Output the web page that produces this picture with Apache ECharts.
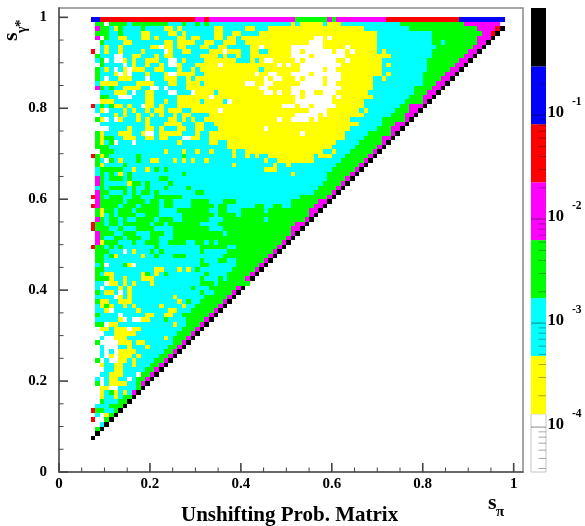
<!DOCTYPE html>
<html><head><meta charset="utf-8">
<style>html,body{margin:0;padding:0;background:#fff}#c{width:585px;height:526px}</style>
<script src="https://cdn.jsdelivr.net/npm/echarts@6/dist/echarts.min.js"></script>
</head><body><div id="c"></div>
<script>
// Colour levels: 0 white,1 yellow,2 cyan,3 green,4 magenta,5 red,6 blue,7 black
// Rows run top (s=0.99) to bottom (s=0.07). Each row: "from the left | filler level | ending on the diagonal".
const levelRows = [
"|1|6*2 5*21 4*2 5 4*19 3*7 4 3 4*11 5*16 6*10",
"|2|0 3*2 0 3*4 2 3*8 2*3 3 2*2 3 2 3 2*18 1 2 1*5 2 1*3 2*13 3*14 4*8",
"04332232222322221121222222211222221122211111|1|2*10 3*15 4*4 5 7",
"00332232221122222112122222211221122221111111|1|2*12 3*11 4*2 5 7",
"043031122221121222211211222112112111111111111111100101111111|1|2*12 3*10 4*3 7",
"001321122222112211211112211221112211111111111111000111111111|1|2*12 3*2 2 3*7 4*2 7",
"003121222222222011211222112211222221101111110000000111110111|1|2*13 3*8 4*2 7",
"502121222222222201221122221110111221122111110010000001001011|1|2 1 2*10 3*8 4*2 7",
"023122221221222211222222111121221221111111110000100000001111|1|2*9 3*7 4*2 7",
"002120021112111220021222211111112221210011111010000000110111|1|2*10 3*7 4*2 7",
"003120022112221120012221111101111111111110101100000000011111|1|2 1 2*8 3*6 4*2 7",
"002231221122221122212212111111111111121111111100000100111111|1|2*10 3*5 4*2 7",
"003220102111222210011112211111111111011001110000100000011111|1|2 1 2*7 3*5 4*2 7",
"003120101112232211122121111111111111110100111010000100011111|1|2*2 1 2*8 3*4 4*2 7",
"002122111222221221122111211111111100110011111100000100111111|1|2*11 3*3 4*2 7",
"043121222222232202222111111111111111100111110000000000011111|1|2*9 3*4 4*2 7",
"002112122222220220022201111211111111110010110010011000111111|1|2*10 3*3 4*2 7",
"003320002212221222211111110111111111111111111010000001011111|1|2*8 3*3 4*2 7",
"001122222221121212211111211112011111111111111000000001111111|1|2*9 3*4 4 7",
"503121122211221122211111111111111111111111000100100000111111|1|2*8 3*2 4*3 7",
"002112112021221121112211111101111111111111111111000011111111|1|2 1 2*6 3*3 4*2 7",
"002211222201221122121122221111111111111111111000001011111111|1|2*6 3*3 4*2 7",
"003010122021222221121212211111111111111110110000101111111|1|2*7 3*5 4 7",
"00222222222212221111222112211111111111111111|1|2*5 3*3 4*2 7",
"00000022221222112221122112221111111111011111|1|2*6 3*3 4*2 7",
"003122222211122111112221221111111111111111111101|1|2*5 3*5 4 7",
"00313022112211211222001122111111111111111111|1|2*4 3*4 4*2 7",
"00133222222223222221222222112211111111111111|1|2*5 3*5 4 7",
"00332022202222222222222222222211111111111111|1|2*5 3*5 4 7",
"00333222222222221222122122122221221111111111|1|2*2 1 2*3 3*5 4 7",
"50133222223222222222322222222221221212211111|1|2 1*3 2*3 3*5 4 7",
"00302212223221122212121221222222222222122111|1|2*6 3*5 4 7",
"00322222332222222222222222222221222222221221|2|3*5 4 7",
"00333332222213223222222222222222222222111222|2|3*5 4 7",
"002331222232222222223222222222222222222222221|2|3*5 4 7",
"04232223222222233222222222222222222222222222|2|3*4 4 7",
"04322222322233222322222222222222222222222222|2|3*4 4 7",
"04233332322222223222232222222222222222222222|2|3*4 4 7",
"04333333232233322222222332222222222222222222|2|3*4 4 7",
"54233322332233333333222222222222222222222222|2|3*6 4 7",
"04232333223332223322223333222333222222222222|3|4*2 7",
"54233333233332223322223333323322222233223322|3|4*2 7",
"03123233332232222223333333223322233333233333|3|4*2 7",
"03123233332333222222333333323333233333333333|3|4 7",
"04232233333333333322333333222333333333233333|3|4 7",
"53322333333333332333333322223333333333333333|3|4*2 7",
"53233223222333322233333333222333333333333333|3|4*2 7",
"04333323322233332233333333333233333333333333|3|4 7",
"04323322332223222233333333333333333333333333|3|4 7",
"04333323233333322333322332323333|3|4 7",
"53332332323232222222222233333322|3|4 7",
"03322122312222232222222232222233|3|4 7",
"03321222212122222233322222222333|3|4 7",
"00322222222222222222222232223322|3|4 7",
"00032212110222222222222233222222|3|4 7",
"00332222222222212221212322222223|3|4 7",
"00311022222223123222222223222233|3|4 7",
"00333122122222222222222232223233|3|4 7",
"0220121122212112222222223332333333347",
"0022101222121112222222322233333347",
"032011210122222222222222322333347",
"00221111222222222212222223333347",
"0312211112222222222123223333347",
"001111112222222122221223333347",
"00210201202221222112223333347",
"0312202102221122112233333347",
"022112010110222232222333347",
"03321121222222222212233347",
"0011211101122222222233347",
"000221111122222222233347",
"00200011122222221233347",
"0320001112112222223347",
"002000221222122223347",
"00202011112222223347",
"0020101112122223347",
"030200112122223347",
"00122112212223347",
"0002211222223347",
"002211122203347",
"02021122023347",
"0302111122347",
"001100222237",
"00123121247",
"0012212337",
"003222337",
"02223337",
"5332237",
"020137",
"50037",
"0027",
"037",
"07",
"7"
];
// Fifteen leftmost cells of the rows from s=0.97 down to s=0.28, read at closer range
const leftEdgeFirstRow = 2;
const leftEdgeRows = [
"043321322223222","033322322221122","040322112221121","003222211222222","002122122222211",
"502122122221222","032220022112221","023020012122111","003222202122122","032120210111221",
"032221010222122","032022111222022","021111222211112","043232211112200","002221112022112",
"003322000222112","001112222222112","523231121220112","021022212122121","002221212212212",
"031020122212122","002222222222122","000022221222112","031222111221002","031332211122112",
"031230222022222","033322222222222","003332222222222","531322222232222","032032122232211",
"031222232222222","023333322122123","023232123222222","043233323222222","043222221332322",
"023233332322322","043322232323323","543233322332223","043333323333233","543333233323333",
"031332333233333","031232333322333","043233232233332","533233233333323","533322322233332",
"043332233322233","043223323332233","041333222322333","533232322222223","033322202122232",
"033231222221223","033222222222222","023022231022222","033222222222221","032112222221321",
"033312212221112","022011212122212","020222121222222","032112021222222","022220121222222",
"031122111222222","021312212122222","022102222212222","032222022222112","022222102001122",
"033011222222222","001121110112222","000221111122222","002001112222222","030000111211222"
];
const levelValues = [7e-5, 2.5e-4, 9e-4, 3.3e-3, 1.2e-2, 4.3e-2, 0.155, 0.56];
const bandEdges = [3.7e-5, 1.34e-4, 4.83e-4, 1.74e-3, 6.28e-3, 2.26e-2, 8.17e-2, 0.294, 1.07];
const bandColors = ["#ffffff","#ffff00","#00ffff","#00ff00","#ff00ff","#ff0000","#0000ff","#000000"];
const majorTicks = [0,0.2,0.4,0.6,0.8,1];
const minorTicks = [0.05,0.1,0.15,0.25,0.3,0.35,0.45,0.5,0.55,0.65,0.7,0.75,0.85,0.9,0.95];
const decades = [0.1,0.01,0.001,0.0001];
const decadeExponents = ["-1","-2","-3","-4"];
const barMinorTicks = [0.9,0.8,0.7,0.6,0.5,0.4,0.3,0.2,0.09,0.08,0.07,0.06,0.05,0.04,0.03,0.02,0.009,0.008,0.007,0.006,0.005,0.004,0.003,0.002,0.0009,0.0008,0.0007,0.0006,0.0005,0.0004,0.0003,0.0002,0.00009,0.00008,0.00007,0.00006,0.00005,0.00004];
const binStart = 0.07, binWidth = 0.01, topBin = 0.99;

function expand(s){
  return s.trim().split(/\s+/).map(t=>{
    const m=t.match(/^(\d)\*(\d+)$/);
    return m? m[1].repeat(+m[2]) : t;
  }).join('');
}
const cells=[];
levelRows.forEach((row,k)=>{
  const [l,f,r]=row.split('|');
  const len = k===0?91:(k===1?90:93-k);
  const right=expand(r||''); let left=expand(l||'');
  left=left.slice(0,Math.max(0,len-right.length));
  const fill=(f||'0').repeat(Math.max(0,len-right.length-left.length));
  let s=left+fill+right;
  const edge=leftEdgeRows[k-leftEdgeFirstRow];
  if(edge) s=edge+s.slice(edge.length);
  for(let c=0;c<s.length;c++){
    cells.push([binStart+binWidth*c, topBin-binWidth*k, levelValues[+s[c]]]);
  }
});
function bandIndex(v){
  for(let i=0;i<bandColors.length;i++) if(v<bandEdges[i+1]) return i;
  return bandColors.length-1;
}
const bands=bandColors.map((c,i)=>[bandEdges[i],bandEdges[i+1],i]);
const serif='"Liberation Serif","Times New Roman",serif';
const chart=echarts.init(document.getElementById('c'),null,{renderer:'canvas'});
const topV=1.0205;
const axisCol='#555';
const label={fontFamily:serif,fontWeight:'bold',fontSize:15,color:'#000'};
const fmt=v=>(majorTicks.indexOf(v)>=0?String(v):'');
const tickData=[...majorTicks.map(v=>[v,v,9,1.6]),...minorTicks.map(v=>[v,v,4.5,1])];
chart.setOption({
  animation:false,
  backgroundColor:'#fff',
  title:{text:'Unshifting Prob. Matrix',left:181,top:505,textStyle:{fontFamily:serif,fontWeight:'bold',fontSize:21,color:'#000'},padding:0},
  grid:[
    {left:59,top:8,width:464,height:464,show:true,borderColor:'#8a8a8a',borderWidth:1.5,backgroundColor:'transparent'},
    {left:531,top:8,width:15,height:464,show:false},
    {left:59,top:8,width:464,height:464,show:false}
  ],
  xAxis:[
    {type:'value',gridIndex:0,min:0,max:topV,interval:0.2,splitLine:{show:false},
     axisLine:{lineStyle:{color:axisCol,width:1.5}},axisTick:{show:false},
     axisLabel:{...label,margin:5,showMaxLabel:false,formatter:fmt}},
    {type:'value',gridIndex:1,min:0,max:1,show:false},
    {type:'value',gridIndex:2,min:0,max:topV,show:false}
  ],
  yAxis:[
    {type:'value',gridIndex:0,min:0,max:topV,interval:0.2,splitLine:{show:false},
     axisLine:{lineStyle:{color:axisCol,width:1.5}},axisTick:{show:false},
     axisLabel:{...label,margin:12,showMaxLabel:false,formatter:fmt}},
    {type:'log',gridIndex:1,min:bandEdges[0],max:bandEdges[8],show:false},
    {type:'value',gridIndex:2,min:0,max:topV,show:false}
  ],
  series:[
    {type:'custom',xAxisIndex:0,yAxisIndex:0,data:cells,progressive:0,silent:true,
     renderItem(p,api){
       const x=api.value(0),y=api.value(1),v=api.value(2);
       const a=api.coord([x,y+binWidth]),b=api.coord([x+binWidth,y]);
       const x0=Math.round(a[0]),y0=Math.round(a[1]),x1=Math.round(b[0]),y1=Math.round(b[1]);
       return {type:'rect',shape:{x:x0,y:y0,width:x1-x0,height:y1-y0},style:{fill:bandColors[bandIndex(v)]}};
     }},
    {type:'custom',xAxisIndex:1,yAxisIndex:1,data:bands,silent:true,clip:false,
     renderItem(p,api){
       const a=api.coord([0,api.value(1)]),b=api.coord([1,api.value(0)]);
       return {type:'rect',shape:{x:a[0],y:a[1],width:b[0]-a[0],height:b[1]-a[1]},
               style:{fill:bandColors[api.value(2)],stroke:api.value(2)===0?'#c4c4c4':bandColors[api.value(2)],lineWidth:api.value(2)===0?1:0}};
     }},
    {type:'custom',xAxisIndex:1,yAxisIndex:1,data:barMinorTicks.map(v=>[v]),silent:true,clip:false,
     renderItem(p,api){
       const a=api.coord([1,api.value(0)]);
       return {type:'line',shape:{x1:a[0]-7.5,y1:a[1],x2:a[0],y2:a[1]},style:{stroke:'rgba(0,0,0,0.35)',lineWidth:1}};
     }},
    {type:'custom',xAxisIndex:1,yAxisIndex:1,data:decades.map((v,i)=>[v,i]),silent:true,clip:false,
     renderItem(p,api){
       const a=api.coord([1,api.value(0)]),e=decadeExponents[api.value(1)];
       return {type:'group',children:[
         {type:'line',shape:{x1:a[0]-15,y1:a[1],x2:a[0],y2:a[1]},style:{stroke:'rgba(0,0,0,0.45)',lineWidth:1}},
         {type:'text',style:{x:a[0]+1.5,y:a[1]-2,text:'10',fill:'#000',font:'bold 16.5px '+serif,verticalAlign:'middle',align:'left'}},
         {type:'text',style:{x:a[0]+26,y:a[1]-13,text:e,fill:'#000',font:'bold 11.5px '+serif,verticalAlign:'middle',align:'left'}}
       ]};
     }},
    {type:'custom',xAxisIndex:2,yAxisIndex:2,data:tickData,silent:true,clip:false,z:5,
     renderItem(p,api){
       const v=api.value(0),n=api.value(2),w=api.value(3);
       const a=api.coord([v,0]),b=api.coord([0,v]);
       return {type:'group',children:[
         {type:'line',shape:{x1:a[0],y1:a[1],x2:a[0],y2:a[1]-n},style:{stroke:'#444',lineWidth:w}},
         {type:'line',shape:{x1:b[0],y1:b[1],x2:b[0]+n,y2:b[1]},style:{stroke:'#444',lineWidth:w}}
       ]};
     }}
  ],
  graphic:[
    {type:'text',x:488,y:492,z:10,style:{text:'s',fill:'#000',font:'bold 22px '+serif}},
    {type:'text',x:496,y:505,z:10,style:{text:'π',fill:'#000',font:'bold 15px '+serif}},
    {type:'text',x:0,y:41,rotation:Math.PI/2,z:10,style:{text:'s',fill:'#000',font:'bold 22px '+serif}},
    {type:'text',x:15,y:33,rotation:Math.PI/2,z:10,style:{text:'γ',fill:'#000',font:'bold 14px '+serif}},
    {type:'text',x:14,y:27,rotation:Math.PI/2,z:10,style:{text:'*',fill:'#000',font:'bold 15px '+serif}}
  ]
});
</script></body></html>
